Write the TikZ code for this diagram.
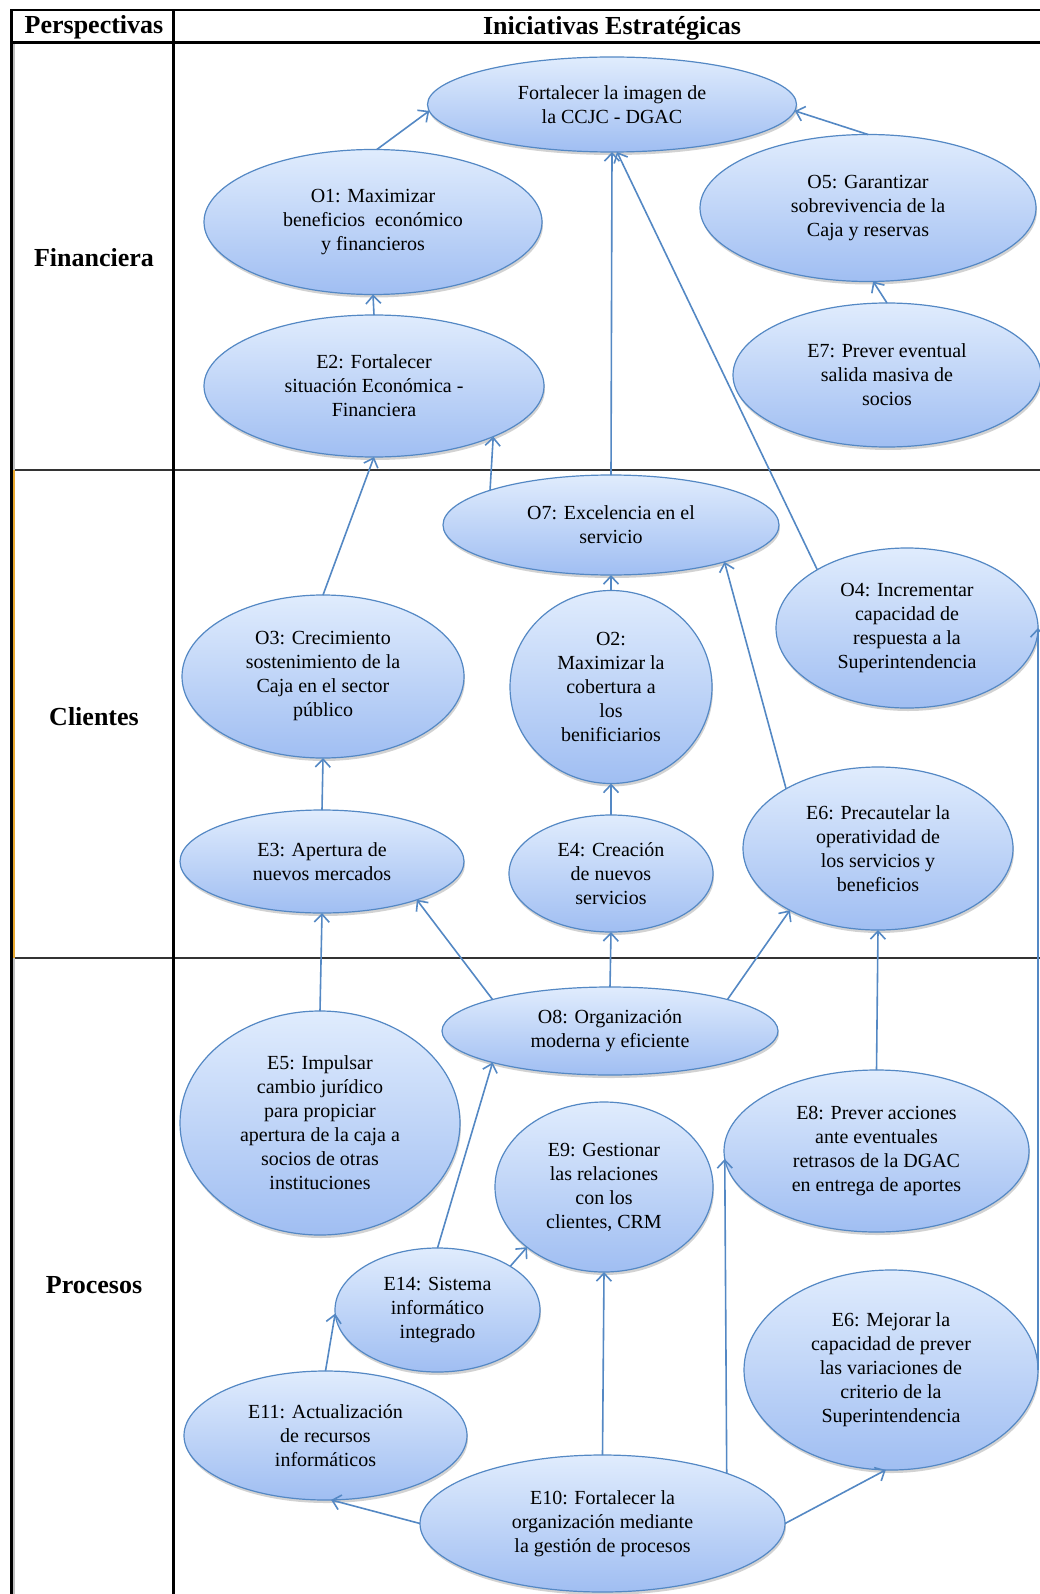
\documentclass[tikz,border=0pt]{standalone}
\usepackage{fontspec}
\setmainfont{Liberation Serif}
\usetikzlibrary{arrows.meta}
\usetikzlibrary{shapes.geometric}
\usetikzlibrary{shadows}
\definecolor{edgeblue}{RGB}{84,136,196}
\definecolor{topblue}{RGB}{224,236,253}
\definecolor{botblue}{RGB}{160,190,242}
\definecolor{barorange}{RGB}{232,168,48}

\begin{document}
\begin{tikzpicture}[x=1pt, y=-1pt,
    goal/.style={ellipse, draw=edgeblue, line width=1.2pt, top color=topblue, bottom color=botblue,
        inner sep=0pt, outer sep=0pt, align=center, font=\fontsize{20}{24}\selectfont,
        drop shadow={shadow xshift=1pt, shadow yshift=-3pt, opacity=0.35}},
    link/.style={draw=edgeblue, line width=1.6pt, -{Straight Barb[length=8pt, width=15pt]}},
    head/.style={font=\fontsize{26}{30}\selectfont\bfseries}]
    \fill[white] (0,0) rectangle (1040,1594);
    \useasboundingbox (0,0) rectangle (1040,1594);

    % table
    \draw[black!80, line width=2pt] (11,470) -- (1040,470);
    \draw[black!80, line width=2pt] (11,958) -- (1040,958);
    \draw[black!25, line width=2pt] (14,43) -- (14,470);
    \draw[black!25, line width=2pt] (14,958) -- (14,1594);
    \draw[barorange, line width=2.5pt] (14,470) -- (14,958);
    \draw[line width=2.5pt] (10,10) -- (1040,10);
    \draw[line width=3pt] (10,43) -- (1040,43);
    \draw[line width=3pt] (11,10) -- (11,1594);
    \draw[line width=3pt] (173,10) -- (173,1594);

    \node[head] (persp) at (94,27) {Perspectivas};
    \node[head] (inic) at (612,28) {Iniciativas Estratégicas};
    \node[head] (fin) at (94,258) {Financiera};
    \node[head] (cli) at (94,717) {Clientes};
    \node[head] (pro) at (94,1285) {Procesos};

    % Financiera
    \node[goal, minimum width=369pt, minimum height=95pt] (fort) at (612,104.5) {Fortalecer la imagen de\\la CCJC - DGAC};
    \node[goal, minimum width=338pt, minimum height=145pt] (o1) at (373,222) {O1: Maximizar\\beneficios \ económico\\y financieros};
    \node[goal, minimum width=340pt, minimum height=142pt] (e2) at (374,386) {E2: Fortalecer\\situación Económica -\\Financiera};
    \node[goal, minimum width=336pt, minimum height=147pt] (o5) at (868,208) {O5: Garantizar\\sobrevivencia de la\\Caja y reservas};
    \node[goal, minimum width=308pt, minimum height=144pt] (e7) at (887,375) {E7: Prever eventual\\salida masiva de\\socios};

    % Clientes
    \node[goal, minimum width=336pt, minimum height=100pt] (o7) at (611,525) {O7: Excelencia en el\\servicio};
    \node[goal, minimum width=262pt, minimum height=160pt] (o4) at (907,628) {O4: Incrementar\\capacidad de\\respuesta a la\\Superintendencia};
    \node[goal, minimum width=282pt, minimum height=163pt] (o3) at (323,676.5) {O3: Crecimiento\\sostenimiento de la\\Caja en el sector\\público};
    \node[goal, minimum width=202pt, minimum height=193pt] (o2) at (611,687) {O2:\\Maximizar la\\cobertura a\\los\\benificiarios};
    \node[goal, minimum width=284pt, minimum height=103pt] (e3) at (322,861.5) {E3: Apertura de\\nuevos mercados};
    \node[goal, minimum width=204pt, minimum height=117pt] (e4) at (611,873.5) {E4: Creación\\de nuevos\\servicios};
    \node[goal, minimum width=270pt, minimum height=163pt] (e6p) at (878,848.5) {E6: Precautelar la\\operatividad de\\los servicios y\\beneficios};

    % Procesos
    \node[goal, minimum width=336pt, minimum height=88pt] (o8) at (610,1031) {O8: Organización\\moderna y eficiente};
    \node[goal, minimum width=280pt, minimum height=224pt] (e5) at (320,1123) {E5: Impulsar\\cambio jurídico\\para propiciar\\apertura de la caja a\\socios de otras\\instituciones};
    \node[goal, minimum width=218pt, minimum height=170pt] (e9) at (604,1187) {E9: Gestionar\\las relaciones\\con los\\clientes, CRM};
    \node[goal, minimum width=305pt, minimum height=162pt] (e8) at (876.5,1151) {E8: Prever acciones\\ante eventuales\\retrasos de la DGAC\\en entrega de aportes};
    \node[goal, minimum width=205pt, minimum height=124pt] (e14) at (437.5,1310) {E14: Sistema\\informático\\integrado};
    \node[goal, minimum width=294pt, minimum height=200pt] (e6m) at (891,1370) {E6: Mejorar la\\capacidad de prever\\las variaciones de\\criterio de la\\Superintendencia};
    \node[goal, minimum width=283pt, minimum height=129pt] (e11) at (325.5,1435.5) {E11: Actualización\\de recursos\\informáticos};
    \node[goal, minimum width=365pt, minimum height=137pt] (e10) at (602.5,1523.5) {E10: Fortalecer la\\organización mediante\\la gestión de procesos};

    \draw[link] (o1.87) -- (fort.182);
    \draw[link] (o5.north) -- (fort.358);
    \draw[link] (o7.north) -- (fort.south);
    \draw[link] (o4.147) -- (fort.276);
    \draw[link] (e2.north) -- (o1.south);
    \draw[link] (e7.north) -- (o5.274);
    \draw[link] (o7.164) -- (e2.337);
    \draw[link] (o3.north) -- (e2.south);
    \draw[link] (o2.north) -- (o7.south);
    \draw[link] (e6p.147) -- (o7.342);
    \draw[link] (e3.north) -- (o3.south);
    \draw[link] (e4.north) -- (o2.south);
    \draw[link] (o8.165) -- (e3.338);
    \draw[link] (e5.north) -- (e3.south);
    \draw[link] (o8.north) -- (e4.south);
    \draw[link] (o8.15) -- (e6p.215);
    \draw[link] (e8.north) -- (e6p.south);
    \draw[link] (e14.north) -- (o8.195);
    \draw[link] (e14.31) -- (e9.218);
    \draw[link] (e11.north) -- (e14.182);
    \draw[link] (e10.west) -- (e11.275);
    \draw[link] (e10.north) -- (e9.south);
    \draw[link] (e10.22) -- (e8.183);
    \draw[link] (e10.east) -- (e6m.267);
    \draw[link] (e6m.east) -- (o4.east);
\end{tikzpicture}
\end{document}
